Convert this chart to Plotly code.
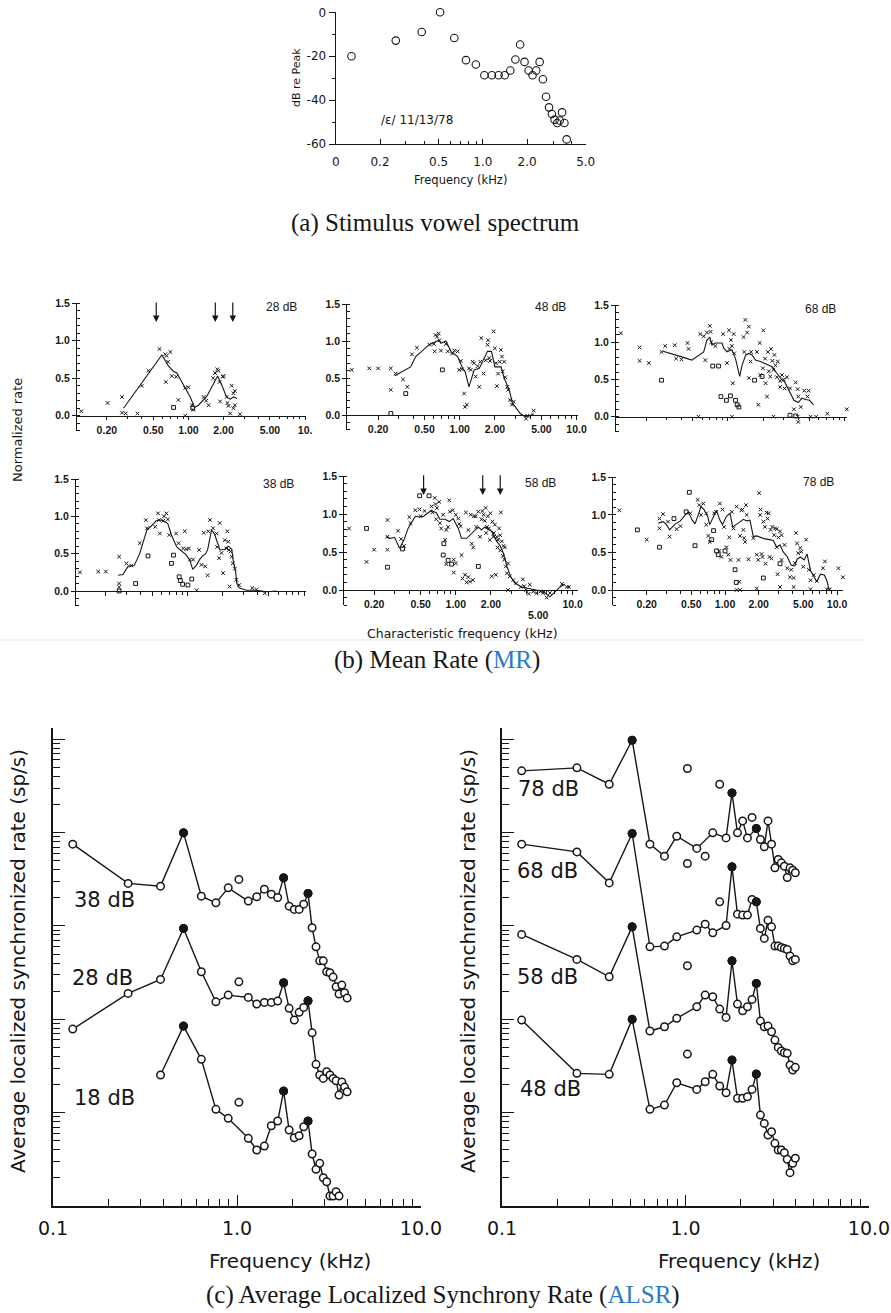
import numpy as np
import plotly.graph_objects as go

W, H = 891, 1313
INK = "#161616"
SANS = "DejaVu Sans"
MR_SANS = "Liberation Sans"
SERIF = "Liberation Serif"
LINK_BLUE = "#2b7bc6"

# ---------------------------------------------------------------------------
# (a) Stimulus vowel spectrum  /ɛ/  (harmonic levels, dB re peak)
# ---------------------------------------------------------------------------
spectrum_freq_khz = [0.128, 0.256, 0.384, 0.512, 0.640, 0.768, 0.896, 1.024, 1.152,
                     1.280, 1.408, 1.536, 1.664, 1.792, 1.920, 2.048, 2.176, 2.304,
                     2.432, 2.560, 2.688, 2.816, 2.944, 3.072, 3.200, 3.328, 3.456,
                     3.584, 3.712]
spectrum_level_db = [-20.0, -12.9, -9.0, 0.0, -11.7, -21.8, -23.8, -28.7, -28.7,
                     -28.7, -28.7, -26.5, -21.5, -14.7, -22.6, -26.5, -28.7, -26.5,
                     -22.6, -30.5, -38.5, -43.3, -46.3, -48.9, -50.4, -49.3, -45.6,
                     -50.4, -57.9]

# ---------------------------------------------------------------------------
# (b) Normalized mean rate vs characteristic frequency (kHz, rate) pairs
# ---------------------------------------------------------------------------
mr28_line = [(0.278, 0.10), (0.592, 0.81), (0.676, 0.66), (0.746, 0.59), (0.796, 0.57),
             (1.036, 0.25), (1.13, 0.11), (1.22, 0.14), (1.44, 0.26), (1.59, 0.39),
             (1.78, 0.53), (1.93, 0.41), (2.12, 0.25), (2.28, 0.22), (2.44, 0.25), (2.6, 0.23)]
mr28_units = [(0.121, 0.06), (0.203, 0.17), (0.27, 0.25), (0.27, 0.04), (0.29, 0.03),
              (0.366, 0.03), (0.399, 0.40), (0.455, 0.60), (0.565, 0.89), (0.633, 0.82),
              (0.64, 0.45), (0.65, 0.80), (0.67, 0.72), (0.70, 0.85), (0.72, 0.53),
              (0.786, 0.52), (0.82, 0.21), (0.94, 0.37), (1.00, 0.38), (1.07, 0.14),
              (1.10, 0.08), (1.35, 0.25), (1.42, 0.20), (1.49, 0.14), (1.63, 0.50),
              (1.69, 0.57), (1.77, 0.62), (1.81, 0.60), (1.85, 0.45), (1.87, 0.19),
              (1.97, 0.52), (2.00, 0.53), (2.13, 0.25), (2.16, 0.17), (2.20, 0.13),
              (2.35, 0.40), (2.43, 0.30), (2.43, 0.10), (2.50, 0.14), (2.50, 0.33),
              (2.28, 0.03), (2.77, 0.02), (0.94, 0.0)]
mr28_squares = [(0.746, 0.11), (1.09, 0.10)]
mr28_floor = [0.269, 0.908, 0.96, 1.0, 1.05, 1.11, 1.19, 1.64, 2.28, 3.06, 3.87, 4.19,
              4.43, 4.73, 5.05, 5.39, 5.75, 6.55, 7.09, 7.72, 8.5, 9.4]

mr48_line = [(0.278, 0.53), (0.38, 0.65), (0.42, 0.79), (0.548, 0.95), (0.62, 0.99),
             (0.66, 1.01), (0.69, 0.97), (0.76, 1.0), (0.84, 0.86), (0.96, 0.79),
             (1.06, 0.63), (1.11, 0.59), (1.2, 0.38), (1.24, 0.45), (1.33, 0.61),
             (1.47, 0.63), (1.6, 0.74), (1.73, 0.86), (1.87, 0.86), (2.0, 0.65),
             (2.26, 0.65), (2.4, 0.50), (2.65, 0.34), (2.83, 0.16), (3.3, 0.02),
             (3.6, -0.02), (4.0, -0.01), (4.3, 0.02)]
mr48_units = [(0.119, 0.61), (0.168, 0.63), (0.2, 0.63), (0.257, 0.63), (0.257, 0.34),
              (0.283, 0.56), (0.327, 0.48), (0.356, 0.38), (0.39, 0.82), (0.43, 0.91),
              (0.55, 0.95), (0.6, 0.96), (0.61, 0.86), (0.62, 1.08), (0.64, 1.06),
              (0.66, 1.10), (0.67, 1.01), (0.69, 0.87), (0.76, 0.96), (0.79, 0.86),
              (0.86, 0.83), (0.9, 0.87), (0.96, 0.86), (1.02, 0.73), (1.04, 0.62),
              (1.11, 0.11), (1.15, 0.14), (1.2, 0.63), (1.24, 0.61), (1.29, 0.72),
              (1.33, 0.70), (1.37, 0.52), (1.42, 0.66), (1.47, 0.38), (1.5, 0.72),
              (1.53, 1.04), (1.6, 0.56), (1.67, 0.74), (1.73, 0.95), (1.75, 1.01),
              (1.79, 0.77), (1.82, 0.73), (1.95, 1.13), (2.0, 0.90), (2.04, 0.70),
              (2.08, 0.39), (2.13, 0.56), (2.2, 0.72), (2.25, 0.88), (2.3, 0.79),
              (2.33, 0.59), (2.4, 0.72), (2.45, 0.51), (2.55, 0.38), (2.6, 0.34),
              (2.7, 0.20), (2.8, 0.14), (2.9, 0.18), (3.7, -0.05), (3.8, -0.01),
              (4.3, 0.06), (0.99, 0.61), (1.09, 0.29)]
mr48_squares = [(0.257, 0.02), (0.345, 0.29), (0.71, 0.61)]
mr48_floor = [1.73, 2.26, 2.82, 3.33, 3.52, 3.72, 3.93, 4.15, 4.38, 4.82, 5.14, 5.5,
              5.86, 6.26, 6.9, 7.6, 8.4]

mr68_line = [(0.278, 0.88), (0.36, 0.82), (0.39, 0.81), (0.49, 0.76), (0.62, 0.87),
             (0.66, 1.03), (0.70, 1.07), (0.73, 0.96), (0.78, 0.99), (0.89, 0.99),
             (0.92, 0.92), (0.98, 0.87), (1.08, 0.90), (1.16, 0.78), (1.21, 0.67),
             (1.26, 0.54), (1.32, 0.69), (1.42, 0.83), (1.51, 0.85), (1.61, 0.83),
             (1.72, 0.76), (1.89, 0.74), (2.24, 0.69), (2.39, 0.67), (2.63, 0.58),
             (2.87, 0.50), (3.05, 0.47), (3.3, 0.36), (3.67, 0.22), (4.0, 0.19),
             (4.3, 0.25), (4.6, 0.23), (5.0, 0.22), (5.4, 0.16)]
mr68_units = [(0.121, 1.12), (0.175, 0.93), (0.175, 0.75), (0.21, 0.72), (0.27, 0.87),
              (0.29, 0.95), (0.35, 0.96), (0.36, 0.78), (0.40, 0.77), (0.45, 0.99),
              (0.46, 0.91), (0.58, 1.11), (0.62, 1.08), (0.64, 0.76), (0.66, 1.13),
              (0.70, 1.22), (0.71, 1.14), (0.72, 1.00), (0.78, 0.95), (0.91, 1.11),
              (0.98, 0.72), (1.02, 1.16), (1.03, 0.91), (1.06, 1.03), (1.08, 0.95),
              (1.10, 0.45), (1.12, 1.11), (1.13, 0.85), (1.36, 1.07), (1.38, 0.87),
              (1.41, 1.30), (1.46, 1.13), (1.51, 1.21), (1.51, 0.52), (1.56, 0.74),
              (1.58, 0.87), (1.77, 0.87), (1.82, 0.16), (1.87, 0.99), (1.89, 0.56),
              (1.99, 0.65), (2.01, 1.16), (2.08, 0.78), (2.10, 0.45), (2.16, 0.27),
              (2.20, 0.87), (2.24, 0.61), (2.30, 0.54), (2.34, 0.91), (2.40, 0.75),
              (2.45, 0.63), (2.50, 0.83), (2.55, 0.69), (2.63, 0.53), (2.67, 0.74),
              (2.80, 0.40), (2.80, 0.48), (2.90, 0.56), (3.00, 0.50), (3.05, 0.38),
              (3.20, 0.53), (3.40, 0.38), (3.67, 0.10), (3.80, 0.46), (3.95, 0.37),
              (4.00, 0.27), (4.20, 0.13), (4.50, 0.35), (4.80, 0.27), (4.90, 0.35),
              (4.00, -0.07), (7.10, 0.04), (10.4, 0.10), (0.56, 0.0), (1.08, 0.0),
              (2.45, 0.0), (3.95, 0.0), (5.1, 0.0), (5.7, 0.0)]
mr68_squares = [(0.27, 0.49), (0.74, 0.68), (0.83, 0.68), (0.87, 0.27), (0.97, 0.22),
                (1.05, 0.28), (1.16, 0.22), (1.20, 0.16), (1.24, 0.13), (1.69, 0.49),
                (1.96, 0.54), (3.40, 0.02), (3.80, 0.01)]
mr68_floor = [3.05, 4.04, 4.17, 4.31, 5.6, 5.87, 6.6, 7.3, 8.1, 9.8]

mr38_line = [(0.255, 0.21), (0.28, 0.22), (0.31, 0.33), (0.35, 0.34), (0.39, 0.50),
             (0.42, 0.68), (0.45, 0.82), (0.49, 0.87), (0.54, 0.94), (0.60, 0.95),
             (0.64, 0.93), (0.68, 0.90), (0.73, 0.75), (0.81, 0.59), (0.89, 0.54),
             (0.98, 0.48), (1.05, 0.41), (1.11, 0.29), (1.2, 0.35), (1.27, 0.42),
             (1.37, 0.48), (1.42, 0.49), (1.49, 0.55), (1.55, 0.68), (1.61, 0.82),
             (1.71, 0.76), (1.9, 0.55), (2.09, 0.56), (2.24, 0.60), (2.4, 0.56),
             (2.46, 0.42), (2.6, 0.24), (2.65, 0.10), (2.8, 0.04), (3.2, 0.01),
             (3.9, 0.01), (4.8, -0.01), (5.8, 0.0)]
mr38_units = [(0.12, 0.25), (0.172, 0.26), (0.20, 0.26), (0.26, 0.46), (0.26, 0.10),
              (0.26, 0.05), (0.30, 0.37), (0.33, 0.34), (0.39, 0.64), (0.44, 0.95),
              (0.45, 0.84), (0.53, 0.86), (0.56, 1.04), (0.57, 0.95), (0.58, 0.77),
              (0.62, 0.94), (0.63, 1.00), (0.66, 1.04), (0.68, 0.96), (0.70, 0.75),
              (0.80, 0.77), (0.84, 0.64), (0.92, 0.57), (0.95, 0.80), (0.98, 0.56),
              (1.03, 0.57), (1.05, 0.42), (1.12, 0.42), (1.20, 0.01), (1.26, 0.55),
              (1.32, 0.35), (1.38, 0.78), (1.42, 0.33), (1.49, 0.21), (1.51, 0.80),
              (1.56, 0.95), (1.66, 0.84), (1.78, 0.77), (1.80, 0.59), (1.87, 0.44),
              (1.89, 0.91), (1.96, 0.51), (2.02, 0.24), (2.09, 0.68), (2.16, 0.57),
              (2.20, 0.80), (2.24, 0.66), (2.27, 0.55), (2.34, 0.53), (2.40, 0.46),
              (2.45, 0.37), (2.30, 0.06), (2.55, 0.30), (2.63, 0.15), (2.78, 0.08),
              (3.6, 0.04), (3.9, 0.02), (4.6, -0.03)]
mr38_squares = [(0.26, 0.0), (0.36, 0.10), (0.46, 0.47), (0.73, 0.37), (0.76, 0.48),
                (0.85, 0.19), (0.87, 0.14), (0.91, 0.09), (1.01, 0.08), (1.09, 0.16)]
mr38_floor = [1.78, 2.31, 2.82, 3.22, 3.39, 3.57, 3.76, 3.96, 5.06, 5.47, 5.92, 6.4,
              6.93, 7.5, 8.8]

mr58_line = [(0.252, 0.70), (0.27, 0.68), (0.30, 0.69), (0.33, 0.55), (0.36, 0.66),
             (0.39, 0.81), (0.45, 0.97), (0.49, 0.96), (0.53, 0.97), (0.58, 1.01),
             (0.62, 1.05), (0.64, 1.03), (0.68, 1.02), (0.73, 0.93), (0.81, 0.93),
             (0.88, 0.90), (0.95, 0.94), (1.05, 0.81), (1.12, 0.68), (1.24, 0.68),
             (1.32, 0.72), (1.46, 0.79), (1.56, 0.83), (1.66, 0.79), (1.77, 0.83),
             (2.03, 0.77), (2.24, 0.64), (2.40, 0.58), (2.56, 0.48), (2.74, 0.31),
             (2.94, 0.18), (3.2, 0.09), (3.66, 0.04), (4.2, 0.02), (4.8, 0.0),
             (5.6, -0.02), (6.4, -0.09), (7.1, -0.02), (7.8, 0.04), (8.6, 0.08)]
mr58_units = [(0.122, 0.81), (0.172, 0.37), (0.20, 0.53), (0.26, 0.92), (0.26, 0.53),
              (0.26, 0.70), (0.32, 0.78), (0.34, 0.67), (0.36, 0.58), (0.40, 0.96),
              (0.41, 0.88), (0.45, 1.05), (0.49, 1.06), (0.50, 0.97), (0.54, 1.04),
              (0.62, 1.10), (0.63, 1.02), (0.66, 1.21), (0.67, 1.13), (0.68, 0.93),
              (0.69, 1.08), (0.72, 1.16), (0.73, 0.88), (0.75, 0.81), (0.78, 0.99),
              (0.81, 0.66), (0.83, 0.79), (0.86, 0.83), (0.88, 1.18), (0.89, 1.03),
              (0.83, 0.34), (0.96, 0.40), (1.00, 0.35), (0.96, 0.23), (0.94, 1.05),
              (1.00, 0.99), (1.05, 0.94), (1.07, 0.87), (1.10, 0.84), (1.12, 0.46),
              (1.14, 0.15), (1.20, 0.20), (1.24, 0.10), (1.28, 0.17), (1.32, 0.11),
              (1.40, 0.13), (1.22, 1.02), (1.28, 0.79), (1.34, 0.99), (1.37, 0.61),
              (1.41, 0.56), (1.43, 0.97), (1.48, 0.97), (1.50, 0.83), (1.56, 1.03),
              (1.61, 0.70), (1.66, 0.93), (1.69, 1.04), (1.73, 0.99), (1.77, 0.91),
              (1.80, 1.08), (1.82, 0.75), (1.85, 0.83), (1.88, 0.97), (1.92, 0.81),
              (1.96, 0.66), (1.98, 1.01), (2.03, 0.18), (2.06, 0.90), (2.10, 0.70),
              (2.12, 0.75), (2.16, 0.86), (2.20, 0.20), (2.24, 0.70), (2.28, 0.56),
              (2.30, 0.66), (2.35, 0.81), (2.40, 0.72), (2.40, 0.52), (2.43, 1.02),
              (2.48, 0.64), (2.53, 0.45), (2.56, 0.58), (2.60, 0.40), (2.63, 0.56),
              (2.68, 0.31), (2.74, 0.22), (2.80, 0.35), (2.80, 0.0), (2.90, 0.18),
              (3.10, 0.13), (3.30, 0.09), (3.60, 0.04), (3.75, 0.14), (3.85, 0.05),
              (4.0, 0.0), (4.2, -0.05), (4.3, 0.07), (4.6, -0.02), (4.9, -0.04),
              (5.3, -0.02), (5.6, -0.04), (6.0, -0.10), (6.4, -0.04), (8.1, 0.08),
              (8.9, 0.04), (9.3, 0.04)]
mr58_squares = [(0.172, 0.81), (0.26, 0.30), (0.35, 0.54), (0.49, 1.24), (0.59, 1.24),
                (0.79, 0.61), (0.78, 0.46), (0.86, 0.39), (0.92, 0.34), (1.56, 0.31)]
mr58_floor = [5.8, 6.72, 7.8, 8.6]

mr78_line = [(0.254, 0.89), (0.28, 0.91), (0.30, 0.87), (0.32, 0.80), (0.36, 0.88),
             (0.40, 0.92), (0.43, 0.98), (0.47, 1.04), (0.51, 0.93), (0.54, 0.88),
             (0.58, 1.01), (0.61, 1.11), (0.65, 1.07), (0.70, 0.98), (0.73, 0.87),
             (0.78, 0.95), (0.84, 1.06), (0.90, 0.93), (0.95, 0.87), (1.03, 0.98),
             (1.11, 1.02), (1.17, 0.84), (1.27, 0.87), (1.34, 0.90), (1.46, 0.94),
             (1.56, 0.92), (1.67, 0.93), (1.79, 0.71), (1.92, 0.72), (2.06, 0.70),
             (2.27, 0.68), (2.50, 0.67), (2.70, 0.66), (2.90, 0.57), (3.10, 0.60),
             (3.30, 0.51), (3.60, 0.44), (3.90, 0.33), (4.20, 0.32), (4.40, 0.41),
             (4.70, 0.44), (5.10, 0.40), (5.40, 0.48), (5.80, 0.26), (6.20, 0.18),
             (6.60, 0.11), (7.10, 0.21), (7.70, 0.20), (8.10, 0.13), (8.50, 0.0)]
mr78_units = [(0.114, 1.06), (0.20, 0.67), (0.26, 0.95), (0.26, 0.82), (0.28, 1.01),
              (0.31, 0.91), (0.32, 0.71), (0.37, 0.81), (0.40, 0.85), (0.49, 1.02),
              (0.57, 1.20), (0.59, 1.13), (0.61, 1.00), (0.64, 1.15), (0.68, 1.02),
              (0.68, 0.87), (0.71, 0.72), (0.73, 0.64), (0.80, 1.02), (0.83, 1.04),
              (0.89, 0.52), (0.90, 1.15), (0.93, 0.44), (0.95, 1.07), (0.98, 0.84),
              (1.03, 0.57), (1.07, 0.47), (1.09, 0.70), (1.12, 0.40), (1.15, 1.04),
              (1.19, 0.82), (1.27, 1.11), (1.32, 0.40), (1.34, 0.11), (1.36, 0.72),
              (1.40, 1.06), (1.43, 1.07), (1.46, 0.80), (1.48, 0.69), (1.51, 0.64),
              (1.54, 1.13), (1.56, 1.00), (1.62, 0.41), (1.79, 0.69), (1.92, 0.47),
              (1.98, 0.40), (2.02, 1.29), (2.06, 1.00), (2.08, 1.07), (2.12, 0.48),
              (2.16, 0.44), (2.20, 0.91), (2.27, 0.84), (2.30, 0.35), (2.35, 1.03),
              (2.40, 0.95), (2.45, 1.02), (2.50, 0.44), (2.55, 0.80), (2.60, 0.42),
              (2.65, 0.84), (2.75, 0.73), (2.80, 0.82), (2.90, 0.57), (2.90, 0.81),
              (2.95, 0.21), (3.00, 0.70), (3.10, 0.78), (3.20, 0.73), (3.20, 0.40),
              (3.40, 0.60), (3.60, 0.29), (3.80, 0.17), (3.90, 0.27), (4.10, 0.16),
              (4.20, 0.36), (4.30, 0.76), (4.40, 0.62), (4.50, 0.49), (4.70, 0.56),
              (4.80, 0.51), (5.00, 0.31), (5.30, 0.67), (5.60, 0.27), (5.80, 0.13),
              (6.20, 0.20), (6.60, 0.12), (7.50, 0.29), (7.80, 0.38), (10.3, 0.29),
              (11.3, 0.17), (1.27, 0.0), (1.36, 0.0), (1.92, 0.02), (3.1, 0.04),
              (4.1, 0.04), (5.8, 0.01), (8.1, 0.01), (8.6, 0.01)]
mr78_squares = [(0.165, 0.80), (0.26, 0.57), (0.35, 0.95), (0.45, 1.04), (0.48, 1.30),
                (0.54, 0.59), (0.76, 0.67), (0.79, 0.79), (0.84, 0.52), (0.87, 0.47),
                (1.00, 0.52), (1.23, 0.27), (1.26, 0.10), (2.20, 0.16), (3.10, 0.35)]
mr78_floor = []

# fibres whose rate falls below the plotted range sit on this row
MR_FLOOR_RATE = -0.23
# formant frequencies marked with arrows (kHz)
formant_arrows_khz = [0.53, 1.70, 2.40]

# ---------------------------------------------------------------------------
# (c) ALSR at the harmonics of F0 (log10 of rate, curves offset by decades)
# ---------------------------------------------------------------------------
alsr_harmonics_khz = [0.128, 0.256, 0.384, 0.512, 0.640, 0.768, 0.896, 1.024, 1.152,
                      1.280, 1.408, 1.536, 1.664, 1.792, 1.920, 2.048, 2.176, 2.304,
                      2.432, 2.560, 2.688, 2.816, 2.944, 3.072, 3.200, 3.328, 3.456,
                      3.584, 3.712, 3.840, 3.968]
alsr38_log10 = [3.876, 3.455, 3.426, 3.997, 3.319, 3.247, 3.408, 3.498, 3.266, 3.312,
                3.394, 3.340, 3.305, 3.515, 3.212, 3.177, 3.177, 3.233, 3.348, 2.980,
                2.776, 2.626, 2.626, 2.509, 2.498, 2.452, 2.348, 2.270, 2.366, 2.284,
                2.227]
alsr28_log10 = [1.895, 2.277, 2.427, 2.973, 2.509, 2.187, 2.259, 2.401, 2.234, 2.163,
                2.181, 2.181, 2.195, 2.391, 2.117, 1.991, 2.074, 2.127, 2.198, 1.855,
                1.517, 1.403, 1.367, 1.438, 1.403, 1.367, 1.342, 1.188, 1.328, 1.274,
                1.224]
alsr18_log10 = [None, None, 1.403, 1.927, 1.571, 1.035, 0.939, 1.110, 0.725, 0.600,
                0.642, 0.860, 0.910, 1.231, 0.814, 0.731, 0.753, 0.849, 0.910, 0.557,
                0.393, 0.457, 0.303, 0.260, 0.107, 0.107, 0.153, 0.107, None, None,
                None]
alsr78_log10 = [4.661, 4.693, 4.518, 4.989, 3.876, 3.747, 3.961, 4.686, 3.830, 3.747,
                3.997, 4.518, 3.943, 4.425, 3.997, 4.125, 3.943, 4.162, 4.044, 3.926,
                3.847, 4.125, 3.876, 3.622, 3.712, 3.676, 3.640, 3.519, 3.622, 3.597,
                3.569]
alsr68_log10 = [3.876, 3.793, 3.461, 3.990, 2.776, 2.784, 2.883, 3.669, 2.955, 3.019,
                2.926, 3.258, 3.005, 3.633, 3.126, 3.116, 3.116, 3.284, 3.258, 2.973,
                2.866, 3.062, 2.990, 2.784, 2.784, 2.770, 2.759, 2.748, 2.677, 2.626,
                2.641]
alsr58_log10 = [2.909, 2.641, 2.455, 2.990, 1.874, 1.920, 2.010, 2.573, 2.134, 2.259,
                2.241, 2.109, 2.020, 2.626, 2.163, 2.091, 2.134, 2.213, 2.384, 1.981,
                1.920, 1.927, 1.866, 1.777, 1.699, 1.660, 1.641, 1.635, 1.510, 1.456,
                1.485]
alsr48_log10 = [1.991, 1.421, 1.410, 1.999, 1.035, 1.081, 1.320, 1.627, 1.249, 1.331,
                1.410, 1.285, 1.213, 1.563, 1.153, 1.153, 1.170, 1.249, 1.413, 0.974,
                0.885, 0.760, 0.796, 0.671, 0.600, 0.600, 0.571, 0.500, 0.357, 0.457,
                0.511]
# harmonic numbers drawn filled (formant harmonics) / drawn unconnected
alsr_formant_harmonics = [4, 14, 19]
alsr38_unconnected = [8]
alsr28_unconnected = [8]
alsr18_unconnected = [8]
alsr78_unconnected = [8, 10, 12, 18]
alsr68_unconnected = [8, 12]
alsr58_unconnected = [8]
alsr48_unconnected = [8]


# ---------------------------------------------------------------------------
# helpers: pixel positions on the 891 x 1313 page -> paper fractions
# ---------------------------------------------------------------------------
def dom_x(left, right):
    return [left / W, right / W]


def dom_y(top, bottom):
    return [1 - bottom / H, 1 - top / H]


def pxx(x):
    return x / W


def pxy(y):
    return 1 - y / H


fig = go.Figure()
layout = dict(template="none", width=W, height=H, margin=dict(l=0, r=0, t=0, b=0, pad=0),
              paper_bgcolor="white", plot_bgcolor="rgba(0,0,0,0)", showlegend=False)
annotations = []
shapes = []


def text(x, y, s, size, family=SANS, angle=0, xanchor="center", color=INK, weight=None):
    font = dict(family=family, size=size, color=color)
    if weight:
        font["weight"] = weight
    annotations.append(dict(x=pxx(x), y=pxy(y), xref="paper", yref="paper", text=s,
                            showarrow=False, textangle=angle, xanchor=xanchor,
                            yanchor="middle", font=font))


# ---------------------------------------------------------------------------
# (a) spectrum
# ---------------------------------------------------------------------------
fig.add_trace(go.Scatter(
    x=spectrum_freq_khz, y=spectrum_level_db, mode="markers", xaxis="x", yaxis="y",
    cliponaxis=False, hoverinfo="skip",
    marker=dict(symbol="circle-open", size=7.5, color=INK, line=dict(width=1.1, color=INK))))

layout["xaxis"] = dict(
    type="log", range=[-1, np.log10(5.0)], domain=dom_x(335.7, 585.7), anchor="y",
    automargin=False,
    showline=True, linecolor=INK, linewidth=1.2, showgrid=False, zeroline=False,
    ticks="inside", ticklen=5, tickwidth=1, tickcolor=INK, tickmode="array",
    tickvals=[0.1, 0.2, 0.5, 1, 2, 5], ticktext=["0", "0.2", "0.5", "1.0", "2.0", "5.0"],
    minor=dict(tickmode="array", tickvals=[0.3, 0.4, 0.6, 0.7, 0.8, 0.9, 3, 4],
               ticks="inside", ticklen=3, tickcolor=INK, tickwidth=1),
    tickfont=dict(family=SANS, size=12, color=INK), ticklabelstandoff=6)
layout["yaxis"] = dict(
    range=[-60, 0], domain=dom_y(12.3, 144), anchor="x", automargin=False,
    showline=True, linecolor=INK, linewidth=1.2, showgrid=False, zeroline=False,
    ticks="outside", ticklen=6, tickwidth=1, tickcolor=INK, tickmode="array",
    tickvals=[0, -20, -40, -60], ticktext=["0", "-20", "-40", "-60"],
    minor=dict(tickmode="array", tickvals=[-10, -30, -50], ticks="outside", ticklen=3,
               tickcolor=INK, tickwidth=1),
    tickfont=dict(family=SANS, size=12, color=INK))
text(296, 78, "dB re Peak", 11, angle=-90)
text(460, 180, "Frequency (kHz)", 11.5)
text(417, 120, "/ε/ 11/13/78", 12)
text(435, 223, "(a) Stimulus vowel spectrum", 25, family=SERIF)

# ---------------------------------------------------------------------------
# (b) mean-rate panels
# ---------------------------------------------------------------------------
FULL_TICKS = ["0.20", "0.50", "1.00", "2.00", "5.00", "10.0"]
MR_LAYOUT = [
    dict(label="28 dB", line=mr28_line, units=mr28_units, squares=mr28_squares,
         floor=mr28_floor, left=77, xr=(0.111, 10.2), dec=116.7, top=303.3, zero=415.7,
         ticks=["0.20", "0.50", "1.00", "2.00", "5.00", "10."], label_at=(281, 307),
         arrows=True),
    dict(label="48 dB", line=mr48_line, units=mr48_units, squares=mr48_squares,
         floor=mr48_floor, left=347.3, xr=(0.109, 10.3), dec=116.8, top=304, zero=415,
         ticks=FULL_TICKS, label_at=(550, 307), arrows=False),
    dict(label="68 dB", line=mr68_line, units=mr68_units, squares=mr68_squares,
         floor=mr68_floor, left=616, xr=(0.11, 10.5), dec=116.8, top=305, zero=416.7,
         ticks=None, label_at=(820, 309), arrows=False),
    dict(label="38 dB", line=mr38_line, units=mr38_units, squares=mr38_squares,
         floor=mr38_floor, left=76, xr=(0.111, 10.3), dec=116.7, top=479, zero=591,
         ticks=None, label_at=(278, 484), arrows=False),
    dict(label="58 dB", line=mr58_line, units=mr58_units, squares=mr58_squares,
         floor=mr58_floor, left=344.3, xr=(0.111, 11.1), dec=116.8, top=476, zero=590,
         ticks=["0.20", "0.50", "1.00", "2.00", "", "10.0"], label_at=(540, 483),
         arrows=True),
    dict(label="78 dB", line=mr78_line, units=mr78_units, squares=mr78_squares,
         floor=mr78_floor, left=613.3, xr=(0.1006, 11.4), dec=112.0, top=477.3, zero=590,
         ticks=FULL_TICKS, label_at=(818, 482), arrows=False),
]
MAJOR_MR_X = [0.2, 0.5, 1, 2, 5, 10]
MINOR_MR_X = [0.1, 0.3, 0.4, 0.6, 0.7, 0.8, 0.9, 3, 4, 6, 7, 8, 9]
MINOR_MR_Y = [round(0.1 * k, 1) for k in range(-2, 16)]

for i, p in enumerate(MR_LAYOUT):
    n = i + 2
    xa, ya = f"x{n}", f"y{n}"
    unit = (p["zero"] - p["top"]) / 1.5
    bottom = p["zero"] + 0.2 * unit
    right = p["left"] + p["dec"] * np.log10(p["xr"][1] / p["xr"][0])

    layout[f"xaxis{n}"] = dict(
        type="log", range=[np.log10(p["xr"][0]), np.log10(p["xr"][1])],
        domain=dom_x(p["left"], right), anchor="free", position=pxy(p["zero"]),
        automargin=False,
        showline=True, linecolor=INK, linewidth=1.2, showgrid=False, zeroline=False,
        ticks="outside", ticklen=3.5, tickwidth=1, tickcolor=INK, tickmode="array",
        tickvals=MAJOR_MR_X, ticktext=p["ticks"] if p["ticks"] else [""] * 6,
        showticklabels=p["ticks"] is not None,
        minor=dict(tickmode="array", tickvals=MINOR_MR_X, ticks="outside", ticklen=2.5,
                   tickcolor=INK, tickwidth=1),
        tickfont=dict(family=MR_SANS, size=10.5, color=INK, weight="bold"),
        ticklabelstandoff=1)
    layout[f"yaxis{n}"] = dict(
        range=[-0.2, 1.5], domain=dom_y(p["top"], bottom), anchor=xa, automargin=False,
        showline=True, linecolor=INK, linewidth=1.2, showgrid=False, zeroline=False,
        ticks="outside", ticklen=4, tickwidth=1, tickcolor=INK, tickmode="array",
        tickvals=[0, 0.5, 1.0, 1.5], ticktext=["0.0", "0.5", "1.0", "1.5"],
        minor=dict(tickmode="array", tickvals=MINOR_MR_Y, ticks="inside", ticklen=3,
                   tickcolor=INK, tickwidth=1),
        tickfont=dict(family=MR_SANS, size=10.5, color=INK, weight="bold"))

    fx, fy = zip(*p["units"])
    fig.add_trace(go.Scatter(x=fx, y=fy, mode="markers", xaxis=xa, yaxis=ya,
                             cliponaxis=False, hoverinfo="skip",
                             marker=dict(symbol="x-thin", size=3.6, color=INK,
                                         line=dict(width=1.0, color=INK))))
    if p["squares"]:
        sx, sy = zip(*p["squares"])
        fig.add_trace(go.Scatter(x=sx, y=sy, mode="markers", xaxis=xa, yaxis=ya,
                                 cliponaxis=False, hoverinfo="skip",
                                 marker=dict(symbol="square-open", size=3.8, color=INK,
                                             line=dict(width=1, color=INK))))
    if p["floor"]:
        fig.add_trace(go.Scatter(x=p["floor"], y=[MR_FLOOR_RATE] * len(p["floor"]),
                                 mode="markers", xaxis=xa, yaxis=ya, cliponaxis=False,
                                 hoverinfo="skip",
                                 marker=dict(symbol="square", size=2.6, color=INK)))
    lx, ly = zip(*p["line"])
    fig.add_trace(go.Scatter(x=lx, y=ly, mode="lines", xaxis=xa, yaxis=ya,
                             hoverinfo="skip", line=dict(color=INK, width=1.1)))

    text(p["label_at"][0], p["label_at"][1], p["label"], 12, family=MR_SANS)

    if p["arrows"]:
        for f in formant_arrows_khz:
            annotations.append(dict(
                x=np.log10(f), y=1.25, ax=np.log10(f), ay=1.53, xref=xa, yref=ya,
                axref=xa, ayref=ya, text="", showarrow=True, arrowhead=2,
                arrowsize=1.1, arrowwidth=1.2, arrowcolor=INK))

text(538, 615, "5.00", 10.5, family=MR_SANS, weight="bold")
text(17, 430, "Normalized rate", 13, angle=-90)
text(462, 633, "Characteristic frequency (kHz)", 12.5)
shapes.append(dict(type="line", xref="paper", yref="paper", x0=0, x1=pxx(862),
                   y0=pxy(640), y1=pxy(640), line=dict(color="#e3e3e3", width=1)))
text(437, 660, f"(b) Mean Rate (<span style='color:{LINK_BLUE}'>MR</span>)", 25,
     family=SERIF)

# ---------------------------------------------------------------------------
# (c) ALSR panels
# ---------------------------------------------------------------------------
ALSR_PANELS = [
    dict(n=8, left=53, right=421, title_x=18,
         curves=[("38 dB", alsr38_log10, alsr38_unconnected, (72, 900)),
                 ("28 dB", alsr28_log10, alsr28_unconnected, (70, 978)),
                 ("18 dB", alsr18_log10, alsr18_unconnected, (72, 1098))]),
    dict(n=9, left=502, right=869, title_x=468,
         curves=[("78 dB", alsr78_log10, alsr78_unconnected, (516, 789)),
                 ("68 dB", alsr68_log10, alsr68_unconnected, (515, 871)),
                 ("58 dB", alsr58_log10, alsr58_unconnected, (515, 977)),
                 ("48 dB", alsr48_log10, alsr48_unconnected, (518, 1089))]),
]
ALSR_TOP, ALSR_BOTTOM = 728, 1206
MINOR_LOG_X = [0.2, 0.3, 0.4, 0.5, 0.6, 0.7, 0.8, 0.9, 2, 3, 4, 5, 6, 7, 8, 9]
MINOR_LOG_Y = [k * 10 ** e for e in range(0, 5) for k in range(2, 10)]

for panel in ALSR_PANELS:
    n = panel["n"]
    xa, ya = f"x{n}", f"y{n}"
    layout[f"xaxis{n}"] = dict(
        type="log", range=[-1, 1], domain=dom_x(panel["left"], panel["right"]),
        anchor=ya, automargin=False, showline=True, linecolor=INK, linewidth=1.6,
        showgrid=False, zeroline=False, ticks="inside", ticklen=11, tickwidth=1.4,
        tickcolor=INK, tickmode="array", tickvals=[0.1, 1, 10],
        ticktext=["0.1", "1.0", "10.0"],
        minor=dict(tickmode="array", tickvals=MINOR_LOG_X, ticks="inside", ticklen=7,
                   tickcolor=INK, tickwidth=1.3),
        tickfont=dict(family=SANS, size=19, color=INK), ticklabelstandoff=4)
    layout[f"yaxis{n}"] = dict(
        type="log", range=[0, 5.12], domain=dom_y(ALSR_TOP, ALSR_BOTTOM), anchor=xa,
        automargin=False, showline=True, linecolor=INK, linewidth=1.6, showgrid=False,
        zeroline=False, ticks="inside", ticklen=12, tickwidth=1.4, tickcolor=INK,
        tickmode="array", tickvals=[1, 10, 100, 1e3, 1e4, 1e5], showticklabels=False,
        minor=dict(tickmode="array", tickvals=MINOR_LOG_Y, ticks="inside", ticklen=7,
                   tickcolor=INK, tickwidth=1.3))

    for label, values, loose, label_at in panel["curves"]:
        line_x, line_y, solid_x, solid_y, loose_x, loose_y = [], [], [], [], [], []
        for h, (f, v) in enumerate(zip(alsr_harmonics_khz, values), start=1):
            if v is None:
                continue
            rate = 10 ** v
            if h in loose:
                loose_x.append(f)
                loose_y.append(rate)
                continue
            line_x.append(f)
            line_y.append(rate)
            if h in alsr_formant_harmonics:
                solid_x.append(f)
                solid_y.append(rate)
        circle = dict(symbol="circle", size=7.5, color="white",
                      line=dict(width=1.5, color=INK))
        fig.add_trace(go.Scatter(x=line_x, y=line_y, mode="lines+markers", xaxis=xa,
                                 yaxis=ya, cliponaxis=False, hoverinfo="skip",
                                 line=dict(color=INK, width=1.4), marker=circle))
        fig.add_trace(go.Scatter(x=loose_x, y=loose_y, mode="markers", xaxis=xa,
                                 yaxis=ya, cliponaxis=False, hoverinfo="skip",
                                 marker=circle))
        fig.add_trace(go.Scatter(x=solid_x, y=solid_y, mode="markers", xaxis=xa,
                                 yaxis=ya, cliponaxis=False, hoverinfo="skip",
                                 marker=dict(symbol="circle", size=8, color=INK,
                                             line=dict(width=1, color=INK))))
        text(label_at[0], label_at[1], label, 21, xanchor="left")

    text(panel["title_x"], 961, "Average localized synchronized rate (sp/s)", 20,
         angle=-90)
    text((panel["left"] + panel["right"]) / 2 + 53, 1261, "Frequency (kHz)", 20)

text(443, 1295,
     f"(c) Average Localized Synchrony Rate (<span style='color:{LINK_BLUE}'>ALSR</span>)",
     25, family=SERIF)

layout["annotations"] = annotations
layout["shapes"] = shapes
fig.update_layout(**layout)
fig.write_html("out.html")
